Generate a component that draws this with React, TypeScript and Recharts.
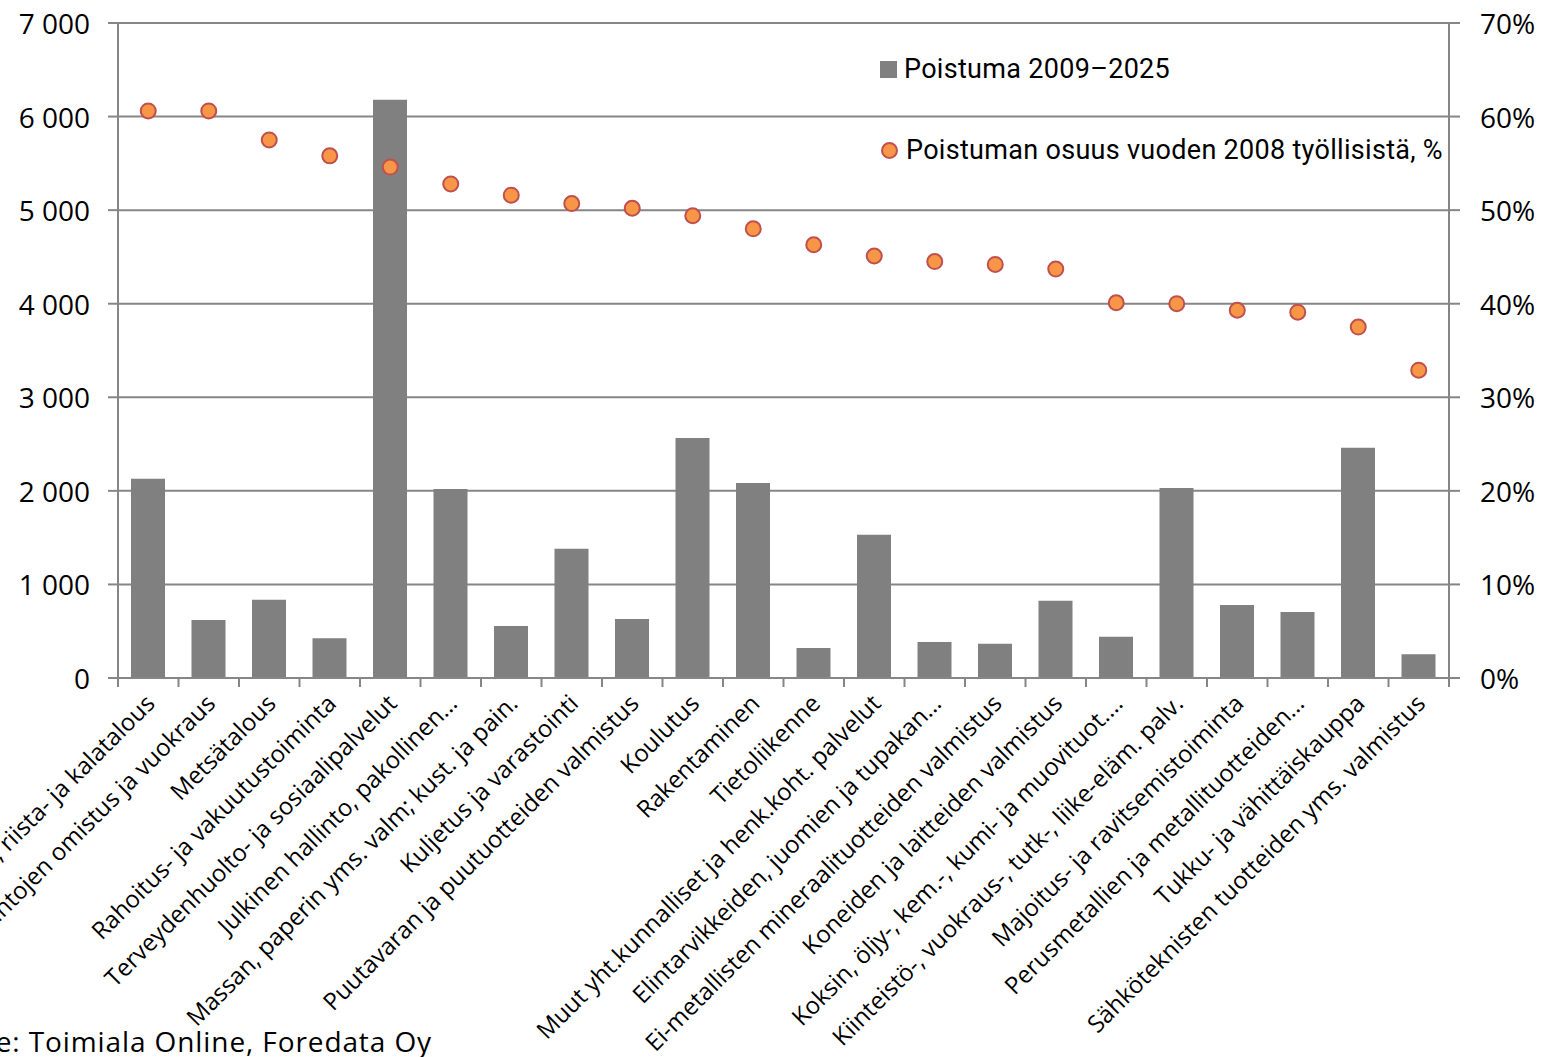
import React from "react";
import {
  ComposedChart,
  Bar,
  Line,
  XAxis,
  YAxis,
  CartesianGrid,
} from "recharts";

const categories = [
  "Maatalous, riista- ja kalatalous",
  "Asuntojen omistus ja vuokraus",
  "Metsätalous",
  "Rahoitus- ja vakuutustoiminta",
  "Terveydenhuolto- ja sosiaalipalvelut",
  "Julkinen hallinto, pakollinen…",
  "Massan, paperin yms. valm; kust. ja pain.",
  "Kuljetus ja varastointi",
  "Puutavaran ja puutuotteiden valmistus",
  "Koulutus",
  "Rakentaminen",
  "Tietoliikenne",
  "Muut yht.kunnalliset ja henk.koht. palvelut",
  "Elintarvikkeiden, juomien ja tupakan…",
  "Ei-metallisten mineraalituotteiden valmistus",
  "Koneiden ja laitteiden valmistus",
  "Koksin, öljy-, kem.-, kumi- ja muovituot.…",
  "Kiinteistö-, vuokraus-, tutk-, liike-eläm. palv.",
  "Majoitus- ja ravitsemistoiminta",
  "Perusmetallien ja metallituotteiden…",
  "Tukku- ja vähittäiskauppa",
  "Sähköteknisten tuotteiden yms. valmistus",
];

// Poistuma 2009–2025 (henkilöä)
const poistuma = [
  2130, 620, 835, 425, 6180, 2020, 555, 1380, 630, 2565, 2085,
  320, 1530, 385, 365, 825, 440, 2030, 780, 705, 2460, 255,
];

// Poistuman osuus vuoden 2008 työllisistä, %
const osuus = [
  60.6, 60.6, 57.5, 55.8, 54.6, 52.8, 51.6, 50.7, 50.2, 49.4, 48.0,
  46.3, 45.1, 44.5, 44.2, 43.7, 40.1, 40.0, 39.3, 39.1, 37.5, 32.9,
];

const leftTicks = [0, 1000, 2000, 3000, 4000, 5000, 6000, 7000];
const rightTicks = [0, 10, 20, 30, 40, 50, 60, 70];

const data = categories.map((name, i) => ({
  name,
  poistuma: poistuma[i],
  osuus: osuus[i],
}));

const AXIS = "#868686";
const FONT = "'Open Sans', 'Noto Sans', sans-serif";
const PLOT_LEFT = 118;
const PLOT_RIGHT = 1449;
const BAND = (PLOT_RIGHT - PLOT_LEFT) / categories.length;

const fmtThousands = (v: number) =>
  v.toString().replace(/\B(?=(\d{3})+(?!\d))/g, " ");

// category label + tick marks sitting on the band edges
const CategoryTick = (props: any) => {
  const { x, y, payload, index } = props;
  const half = BAND / 2;
  return (
    <g>
      <line x1={x - half} y1={y} x2={x - half} y2={y + 9} stroke={AXIS} strokeWidth={2} />
      {index === categories.length - 1 && (
        <line x1={x + half} y1={y} x2={x + half} y2={y + 9} stroke={AXIS} strokeWidth={2} />
      )}
      <g transform={`translate(${x + 8},${y + 27})`}>
        <text
          textAnchor="end"
          transform="rotate(-45)"
          fontSize={24}
          fontFamily={FONT}
          fill="#000"
        >
          {payload.value}
        </text>
      </g>
    </g>
  );
};

const LegendBox = () => (
  <div
    style={{
      position: "absolute",
      left: 880,
      top: 54,
      fontFamily: "Roboto, sans-serif",
      fontSize: 27,
      letterSpacing: 0.3,
      color: "#000",
      whiteSpace: "nowrap",
    }}
  >
    <div style={{ display: "flex", alignItems: "center", height: 30 }}>
      <span style={{ display: "inline-block", width: 17, height: 17, background: "#808080", marginRight: 7 }} />
      Poistuma 2009–2025
    </div>
    <div style={{ display: "flex", alignItems: "center", height: 30, marginTop: 51 }}>
      <span
        style={{
          display: "inline-block",
          width: 13,
          height: 13,
          borderRadius: "50%",
          background: "#F79646",
          border: "2px solid #C0504D",
          marginRight: 8,
          marginLeft: 1,
        }}
      />
      Poistuman osuus vuoden 2008 työllisistä, %
    </div>
  </div>
);

export default function App() {
  return (
    <div style={{ position: "absolute", left: 0, top: 0, width: 1548, height: 1057, background: "#fff" }}>
      <ComposedChart
        width={1548}
        height={1057}
        data={data}
        margin={{ top: 23, right: 0, bottom: 0, left: 0 }}
      >
        <CartesianGrid vertical={false} stroke={AXIS} strokeWidth={2} yAxisId="left" />
        <XAxis
          dataKey="name"
          interval={0}
          height={379}
          tickLine={false}
          tickSize={0}
          tickMargin={0}
          axisLine={{ stroke: AXIS, strokeWidth: 2 }}
          tick={<CategoryTick />}
        />
        <YAxis
          yAxisId="left"
          orientation="left"
          width={118}
          domain={[0, 7000]}
          ticks={leftTicks}
          tickFormatter={fmtThousands}
          axisLine={{ stroke: AXIS, strokeWidth: 2 }}
          tickLine={{ stroke: AXIS, strokeWidth: 2 }}
          tickSize={10}
          tickMargin={18}
          tick={{ fill: "#000", fontSize: 28, fontFamily: FONT, dy: 1 }}
        />
        <YAxis
          yAxisId="right"
          orientation="right"
          width={99}
          domain={[0, 70]}
          ticks={rightTicks}
          tickFormatter={(v: number) => `${v}%`}
          axisLine={{ stroke: AXIS, strokeWidth: 2 }}
          tickLine={{ stroke: AXIS, strokeWidth: 2 }}
          tickSize={11}
          tickMargin={20}
          tick={{ fill: "#000", fontSize: 28, fontFamily: FONT, dy: 1 }}
        />
        <Bar
          yAxisId="left"
          dataKey="poistuma"
          name="Poistuma 2009–2025"
          fill="#808080"
          barSize={34}
          isAnimationActive={false}
        />
        <Line
          yAxisId="right"
          dataKey="osuus"
          name="Poistuman osuus vuoden 2008 työllisistä, %"
          stroke="none"
          dot={{ r: 7.5, fill: "#F79646", stroke: "#C0504D", strokeWidth: 2 }}
          activeDot={false}
          isAnimationActive={false}
        />
      </ComposedChart>
      <LegendBox />
      <div
        style={{
          position: "absolute",
          right: 1116,
          top: 1022,
          whiteSpace: "nowrap",
          fontFamily: FONT,
          fontSize: 28,
          letterSpacing: 0.9,
          color: "#000",
        }}
      >
        Lähde: Toimiala Online, Foredata Oy
      </div>
    </div>
  );
}
